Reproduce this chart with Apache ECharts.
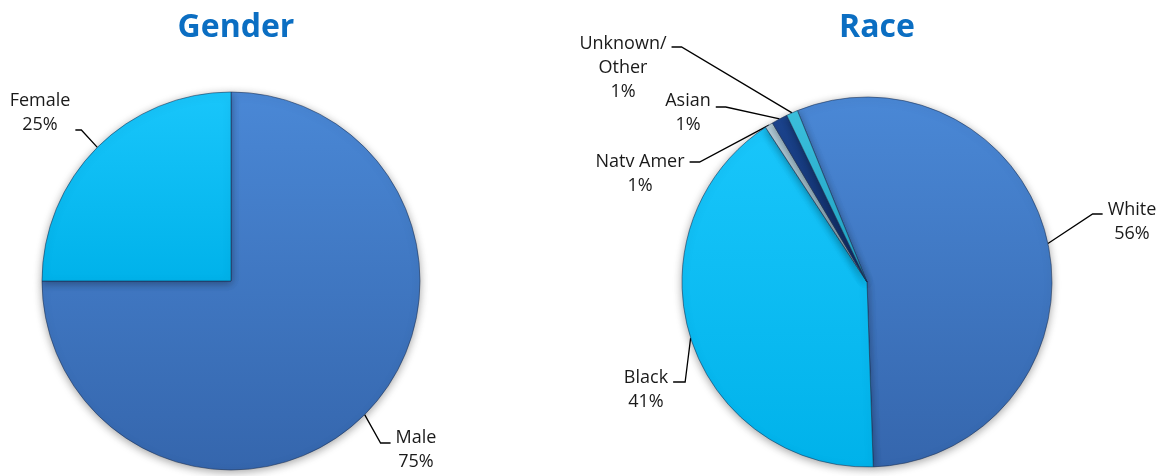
<!DOCTYPE html>
<html>
<head>
<meta charset="utf-8">
<script src="https://cdn.jsdelivr.net/npm/echarts@6/dist/echarts.min.js"></script>
<style>
  html, body { margin: 0; padding: 0; background: #ffffff; }
  #chart { width: 1167px; height: 476px; }
</style>
</head>
<body>
<div id="chart"></div>
<script>
// ---- data ----
var genderCategories = ['Male', 'Female'];
var genderValues = [75, 25];
var raceCategories = ['White', 'Black', 'Natv Amer', 'Asian', 'Unknown/\nOther'];
var raceValues = [55.6, 41.3, 0.7, 1.4, 1.0];
var titles = ['Gender', 'Race'];

// ---- styles ----
var genderColors = [['#4a88d6', '#3566ad'], ['#19c6fb', '#00b2ea']];
var raceColors = [['#4a88d6', '#3566ad'], ['#19c6fb', '#00b2ea'], ['#b8d4e0', '#93b6c8'], ['#1c4590', '#102c66'], ['#3cc2e0', '#1ea4c6']];

// label placement: text centre x, leader-line attach y, top / bottom spacer heights
var labelPlacement = [
  [ {x: 416, y: 443, s1: 14, s2: 0, l2: 10}, {x: 40, y: 130, s1: 0, s2: 35, l2: 6} ],
  [ {x: 1132, y: 214, s1: 15, s2: 0, l2: 10}, {x: 646, y: 382, s1: 35, s2: 20, l2: 12},
    {x: 640, y: 162, s1: 24, s2: 0, l2: 10}, {x: 688, y: 107, s1: 12, s2: 0, l2: 10},
    {x: 623, y: 47, s1: 41, s2: 0, l2: 10} ]
];

var FONT = '"Open Sans", sans-serif';

function grad(c) {
  return new echarts.graphic.LinearGradient(0, 0, 0, 1, [
    {offset: 0, color: c[0]}, {offset: 1, color: c[1]}
  ]);
}

function buildData(names, values, colors, sIdx) {
  return names.map(function (n, i) {
    var pl = labelPlacement[sIdx][i];
    return {
      name: n,
      value: values[i],
      itemStyle: {color: grad(colors[i])},
      label: {
        rich: {
          t: {fontFamily: FONT, fontSize: 18, lineHeight: 24, color: '#1a1a1a', padding: [0, 5]},
          sa: {fontSize: 1, lineHeight: pl.s1, height: pl.s1},
          sb: {fontSize: 1, lineHeight: pl.s2, height: pl.s2}
        }
      },
      labelLine: {length2: pl.l2}
    };
  });
}

function makeSeries(sIdx, center, radius, startAngle, data) {
  return {
    type: 'pie',
    center: center,
    radius: radius,
    startAngle: startAngle,
    clockwise: true,
    avoidLabelOverlap: false,
    animation: false,
    data: data,
    itemStyle: {
      borderColor: 'rgba(25,45,80,0.55)',
      borderWidth: 1,
      shadowBlur: 8,
      shadowColor: 'rgba(0,0,0,0.35)',
      shadowOffsetY: 2
    },
    label: {
      show: true,
      position: 'outside',
      fontFamily: FONT,
      fontSize: 18,
      lineHeight: 24,
      color: '#1a1a1a',
      formatter: function (p) {
        var pl = labelPlacement[sIdx][p.dataIndex];
        var body = p.name.split('\n').map(function (l) { return '{t|' + l + '}'; }).join('\n') +
          '\n{t|' + Math.round(p.percent) + '%}';
        if (pl.s1) { body = '{sa| }\n' + body; }
        if (pl.s2) { body = body + '\n{sb| }'; }
        return body;
      }
    },
    labelLine: {
      show: true,
      length: 20,
      length2: 10,
      lineStyle: {color: '#000000', width: 1.3}
    },
    labelLayout: function (params) {
      var pl = labelPlacement[sIdx][params.dataIndex];
      return {x: pl.x, y: pl.y, align: 'center', verticalAlign: 'middle'};
    }
  };
}

var chart = echarts.init(document.getElementById('chart'), null, {renderer: 'canvas'});
chart.setOption({
  backgroundColor: '#ffffff',
  title: [
    {text: titles[0], left: 231, top: 7, textAlign: 'center',
     textStyle: {fontFamily: FONT, fontWeight: 'bold', fontSize: 32, color: '#0b6ec2'}},
    {text: titles[1], left: 872, top: 7, textAlign: 'center',
     textStyle: {fontFamily: FONT, fontWeight: 'bold', fontSize: 32, color: '#0b6ec2'}}
  ],
  series: [
    makeSeries(0, [231, 281], 189, 90, buildData(genderCategories, genderValues, genderColors, 0)),
    makeSeries(1, [867, 282], 185, 112.1, buildData(raceCategories, raceValues, raceColors, 1))
  ]
});
</script>
</body>
</html>
